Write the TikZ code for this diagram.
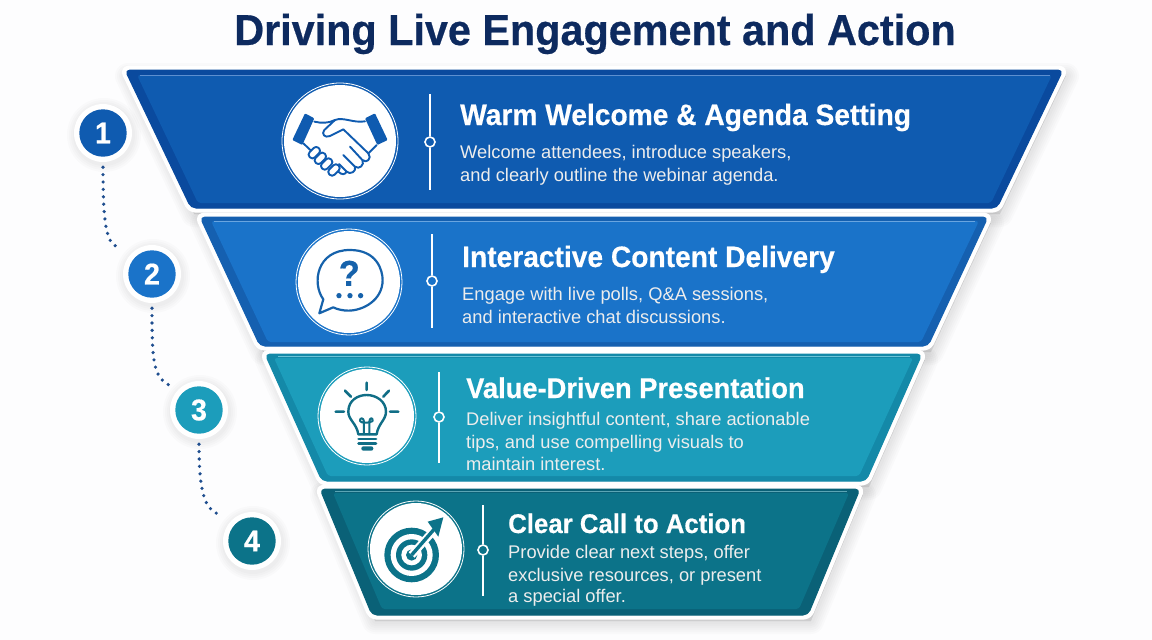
\documentclass[tikz,border=0pt]{standalone}
\usepackage{fontspec}
\setmainfont{Liberation Sans}
\newfontfamily\hbold[FakeStretch=0.955,FakeBold=0.5]{Liberation Sans Bold}
\definecolor{bg}{HTML}{FDFDFE}
\definecolor{titlec}{HTML}{0D2A5F}
\definecolor{aD}{HTML}{0A4A9E}\definecolor{aF}{HTML}{0F5BB0}\definecolor{aL}{HTML}{5C8FD0}
\definecolor{bD}{HTML}{1560B0}\definecolor{bF}{HTML}{1A73C9}\definecolor{bL}{HTML}{69A5E0}
\definecolor{cD}{HTML}{1489A8}\definecolor{cF}{HTML}{1C9DBB}\definecolor{cL}{HTML}{6CC4D8}
\definecolor{dD}{HTML}{0A6177}\definecolor{dF}{HTML}{0C7389}\definecolor{dL}{HTML}{5BA5B5}
\definecolor{dotc}{HTML}{1F4E8F}
\tikzset{
  x=1pt,y=-1pt,
  title text/.style={anchor=base west,inner sep=0pt,text=white,font=\fontsize{#1}{32}\hbold},
  title text/.default=29.5,
  desc text/.style={anchor=base west,inner sep=0pt,text=white!93!black,font=\fontsize{18.3}{22}\selectfont},
  badge/.style={circle,fill=white,inner sep=0pt,minimum size=58pt},
  numtext/.style={inner sep=0pt,text=white,font=\fontsize{30}{30}\hbold},
  dotline/.style={dotc,line width=3.6pt,line cap=round,dash pattern=on 0pt off 7.4pt},
  divider/.style={white,line width=1.6pt},
  knob/.style={circle,draw=white,line width=1.6pt,minimum size=10pt,inner sep=0pt},
  ic/.style={line width=2pt,line cap=round,line join=round},
}
\newcommand{\bandshadow}[1]{%
  \foreach \w in {26,22,18,14,10,6}{%
    \draw[black,opacity=0.015,line width=\w pt,line join=round,fill=black,fill opacity=0.015,shift={(3,6)}] #1 -- cycle;}}
\newcommand{\band}[7]{%
  \draw[white,line width=9pt,line join=round,fill=white,rounded corners=4pt] #1 -- cycle;
  \draw[#3,fill=#3,line width=1pt,line join=round,rounded corners=5pt] #1 -- cycle;
  \fill[#4,rounded corners=3pt] #2 -- cycle;
  \draw[#5,line width=1pt] #6 -- #7;}
\newcommand{\iconcircle}[4]{%
  \node[circle,fill=white,inner sep=0pt,minimum size=#3 pt] (#1) at #2 {};
  \draw[white,line width=.8pt] #2 circle ({#3/2+2});}
\begin{document}
\begin{tikzpicture}
\useasboundingbox (0,0) rectangle (1152,640);
\fill[bg] (0,0) rectangle (1152,640);

\node[anchor=base,inner sep=0pt,text=titlec,font=\fontsize{43.3}{46}\hbold] (maintitle) at (595,45) {Driving Live Engagement and Action};

\bandshadow{(125,70) -- (1063,70) -- (997,208) -- (191,208)}
\bandshadow{(200,217) -- (988,217) -- (928,346) -- (260,346)}
\bandshadow{(265,354) -- (922,354) -- (866,481) -- (322,481)}
\bandshadow{(320,489) -- (860,489) -- (808,615) -- (372,615)}

\band{(125,70) -- (1063,70) -- (997,208) -- (191,208)}{(137,75) -- (1052,75) -- (991,203) -- (198,203)}{aD}{aF}{aL}{(140,75)}{(1050,75)}
\band{(200,217) -- (988,217) -- (928,346) -- (260,346)}{(211,221) -- (979,221) -- (921,342) -- (268,342)}{bD}{bF}{bL}{(214,221)}{(975,221)}
\band{(265,354) -- (922,354) -- (866,481) -- (322,481)}{(274,358) -- (913,358) -- (859,476) -- (328,476)}{cD}{cF}{cL}{(278,356.5)}{(910,356.5)}
\band{(320,489) -- (860,489) -- (808,615) -- (372,615)}{(333,493) -- (849,493) -- (799,609) -- (382,609)}{dD}{dF}{dL}{(335,491.5)}{(847,491.5)}

% icon discs
\iconcircle{ica}{(340,141)}{112}{aF}
\iconcircle{icb}{(349,282)}{102}{bF}
\iconcircle{icc}{(367,416)}{94}{cF}
\iconcircle{icd}{(416,549)}{92}{dF}

% dividers
\coordinate (da1) at (430,94);\coordinate (da2) at (430,190);
\node[knob,fill=aF] (ka) at (430,142) {};
\draw[divider] (da1) -- (ka) (ka) -- (da2);
\coordinate (db1) at (432,234);\coordinate (db2) at (432,328);
\node[knob,fill=bF] (kb) at (432,281) {};
\draw[divider] (db1) -- (kb) (kb) -- (db2);
\coordinate (dc1) at (439,372);\coordinate (dc2) at (439,463);
\node[knob,fill=cF] (kc) at (439,417) {};
\draw[divider] (dc1) -- (kc) (kc) -- (dc2);
\coordinate (dd1) at (483,505);\coordinate (dd2) at (483,596);
\node[knob,fill=dF] (kd) at (483,550) {};
\draw[divider] (dd1) -- (kd) (kd) -- (dd2);

% texts
\node[title text] (ta) at (460,125) {Warm Welcome \& Agenda Setting};
\node[desc text] (da) at (460,158) {Welcome attendees, introduce speakers,};
\node[desc text] (da') at (460,181) {and clearly outline the webinar agenda.};
\node[title text] (tb) at (462,267) {Interactive Content Delivery};
\node[desc text] (db) at (462,300) {Engage with live polls, Q\&A sessions,};
\node[desc text] (db') at (462,323) {and interactive chat discussions.};
\node[title text=28.6] (tc) at (466,398) {Value-Driven Presentation};
\node[desc text] (dc) at (466,425) {Deliver insightful content, share actionable};
\node[desc text] (dc') at (466,448) {tips, and use compelling visuals to};
\node[desc text] (dc'') at (466,470) {maintain interest.};
\node[title text=27] (td) at (508,533) {Clear Call to Action};
\node[desc text] (dd) at (508,558) {Provide clear next steps, offer};
\node[desc text] (dd') at (508,581) {exclusive resources, or present};
\node[desc text] (dd'') at (508,602) {a special offer.};

% handshake icon
\begin{scope}[shift={(285,90)},x=0.3333pt,y=-0.3333pt]
\fill[aF,rounded corners=1pt] (60,70) -- (88,85) -- (52,165) -- (22,150) -- cycle;
\fill[aF,rounded corners=1pt] (240,85) -- (270,70) -- (308,150) -- (277,165) -- cycle;
\draw[aF,ic,line width=1.9pt]
  (88,95) .. controls (110,100) and (130,100) .. (150,90)
  .. controls (175,80) and (205,100) .. (240,94);
\draw[aF,ic,line width=1.9pt]
  (150,90) -- (118,120) .. controls (108,132) and (120,145) .. (135,138)
  -- (175,118) -- (250,190) .. controls (262,205) and (245,222) .. (232,210)
  -- (195,170)  (232,210) .. controls (240,225) and (222,240) .. (210,230)
  -- (175,195)  (210,230) .. controls (215,245) and (195,255) .. (185,245) -- (162,222)
  (185,245) .. controls (180,255) and (170,255) .. (160,245);
\draw[aF,ic,line width=1.9pt] (250,190) -- (275,165);
\draw[aF,ic,line width=1.9pt] (55,160) -- (76,180);
\foreach \cx/\cy in {147/240,125/222,106/205,88/188}{
  \begin{scope}[shift={(\cx,\cy)},rotate=-45]
  \draw[aF,ic,line width=1.9pt,fill=white,rounded corners=3.2pt] (-11,-19) rectangle (11,19);
  \end{scope}}
\end{scope}

% speech bubble icon
\begin{scope}[shift={(60,60)},x=0.3333pt,y=-0.3333pt]
\draw[bF!85!black,ic,line width=2.2pt]
  (790,718) .. controls (755,670) and (770,570) .. (870,570)
  .. controls (950,570) and (968,630) .. (968,660)
  .. controls (968,720) and (910,752) .. (865,752)
  .. controls (850,752) and (830,748) .. (820,742)
  -- (778,760) -- cycle;
\fill[bF!85!black] (837,707) circle (8) (870,707) circle (8) (902,707) circle (8);
\node[inner sep=0pt,text=bF!85!black,font=\fontsize{36}{36}\hbold] (qm) at (868,640) {?};
\end{scope}

% bulb icon
\begin{scope}[shift={(150,340)},x=0.3333pt,y=-0.3333pt]
\draw[cD!80!black,ic,line width=2.4pt]
  (625,283) .. controls (620,250) and (595,240) .. (595,215)
  .. controls (595,180) and (625,165) .. (650,165)
  .. controls (680,165) and (708,185) .. (708,215)
  .. controls (708,240) and (685,250) .. (680,283) -- cycle;
\draw[cD!80!black,ic,line width=2pt] (642,283) -- (642,245) .. controls (642,232) and (628,232) .. (630,243) .. controls (632,250) and (660,250) .. (668,243) .. controls (670,232) and (658,232) .. (658,245) -- (658,283);
\draw[cD!80!black,ic,line width=2.6pt] (650,128) -- (650,150) (585,152) -- (603,170) (717,152) -- (700,170) (557,215) -- (582,215) (720,215) -- (745,215);
\draw[cD!80!black,ic,line width=2.8pt] (626,297) -- (678,297) (626,310) -- (678,310);
\fill[cD!80!black,rounded corners=2pt] (634,319) rectangle (670,332);
\end{scope}

% target icon
\begin{scope}[shift={(375,505)},x=0.3333pt,y=-0.3333pt]
\fill[dF] (110,150) circle (82);
\fill[white] (110,150) circle (63);
\fill[dF] (110,150) circle (47);
\fill[white] (110,150) circle (31);
\fill[dF] (110,150) circle (17);
\draw[white,line width=8pt] (110,150) -- (180,72);
\fill[white] (150,45) -- (212,28) -- (198,100) -- cycle;
\draw[dF,line width=3.4pt] (110,150) -- (178,72);
\fill[dF] (158,50) -- (205,37) -- (190,95) -- cycle;
\end{scope}

% badges
\foreach \n/\p/\c in {ba/{(103,133)}/aF,bb/{(152,274)}/bF,bc/{(199,410)}/cF,bd/{(252,541)}/dF}{
  \foreach \w in {8,6,4,2}{\fill[black,opacity=0.015] \p ++(1,2) circle ({29+\w});}
  \node[badge] (\n) at \p {};
  \fill[\c] \p circle (23.7);
}
\node[numtext] (na) at (ba) {1};
\node[numtext] (nb) at (bb) {2};
\node[numtext] (nc) at (bc) {3};
\node[numtext] (nd) at (bd) {4};

% dotted connectors
\draw[dotline,shorten <=5pt,shorten >=17pt] (ba.south) .. controls +(0,55) and +(-26,-12) .. (bb.135);
\draw[dotline,shorten <=5pt,shorten >=9pt] (bb.south) .. controls +(0,55) and +(-26,-12) .. (bc.135);
\draw[dotline,shorten <=5pt,shorten >=15pt] (bc.south) .. controls +(0,55) and +(-26,-12) .. (bd.135);
\end{tikzpicture}
\end{document}
